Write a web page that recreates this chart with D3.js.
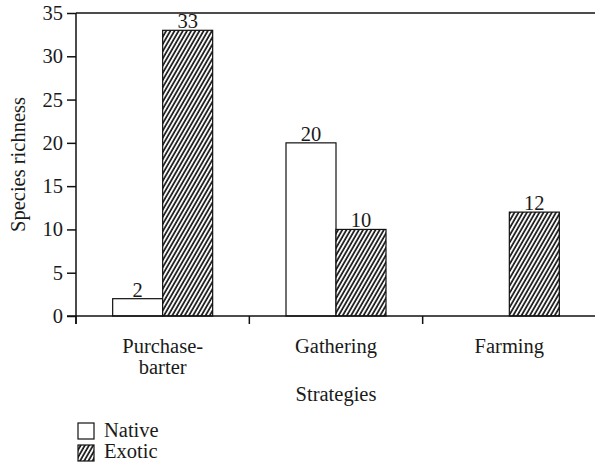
<!DOCTYPE html>
<html><head><meta charset="utf-8">
<script src="https://cdn.jsdelivr.net/npm/d3@7/dist/d3.min.js"></script>
<style>body{margin:0;background:#fff}svg{display:block}text{font-family:"Liberation Serif","Times New Roman",serif;fill:#1a1a1a}</style>
</head><body><svg id="c" width="595" height="463"></svg>
<script>
const categories = ["Purchase-barter", "Gathering", "Farming"];
const categoryLines = [["Purchase-", "barter"], ["Gathering"], ["Farming"]];
const series = ["Native", "Exotic"];
const nativeValues = [2, 20, 0];
const exoticValues = [33, 10, 12];
const yTicks = [0, 5, 10, 15, 20, 25, 30, 35];
const yTitle = "Species richness";
const xTitle = "Strategies";

const svg = d3.select("#c");
const fs = 20.5;
const defs = svg.append("defs");
const pat = defs.append("pattern").attr("id", "hatch").attr("patternUnits", "userSpaceOnUse")
  .attr("width", 3.6).attr("height", 3.6).attr("patternTransform", "rotate(30)");
pat.append("rect").attr("width", 3.6).attr("height", 3.6).attr("fill", "#fff");
pat.append("line").attr("x1", 1).attr("y1", 0).attr("x2", 1).attr("y2", 3.6)
  .attr("stroke", "#111").attr("stroke-width", 1.7);

const x0 = d3.scaleBand().domain(categories).range([76, 596]).padding(0);
const bw = x0.bandwidth();
const x1 = d3.scaleBand().domain(series).range([bw / 2 - 50, bw / 2 + 50]).padding(0);
const y = d3.scaleLinear().domain([0, 35]).range([316, 13]);

const data = [];
categories.forEach((c, i) => {
  data.push({ cat: c, s: "Native", v: nativeValues[i] });
  data.push({ cat: c, s: "Exotic", v: exoticValues[i] });
});
const shown = data.filter(d => d.v > 0);

// bars
svg.append("g").selectAll("rect").data(shown).join("rect")
  .attr("x", d => x0(d.cat) + x1(d.s))
  .attr("y", d => y(d.v))
  .attr("width", x1.bandwidth())
  .attr("height", d => y(0) - y(d.v))
  .attr("fill", d => d.s === "Native" ? "#fff" : "url(#hatch)")
  .attr("stroke", "#111").attr("stroke-width", 1.2);

// value labels
svg.append("g").selectAll("text").data(shown).join("text")
  .attr("x", d => x0(d.cat) + x1(d.s) + x1.bandwidth() / 2)
  .attr("y", d => y(d.v) - 2)
  .attr("text-anchor", "middle").attr("font-size", fs)
  .text(d => d.v);

// y axis
const yAxis = d3.axisLeft(y).tickValues(yTicks).tickSize(9).tickPadding(4);
const gy = svg.append("g").attr("transform", "translate(76,0)").call(yAxis);
gy.select(".domain").attr("d", "M0,13V324").attr("stroke", "#111").attr("stroke-width", 1.5);
gy.selectAll(".tick line").attr("stroke", "#111").attr("stroke-width", 1.5);
gy.selectAll(".tick text").attr("font-size", fs).attr("fill", "#1a1a1a");

// top border & x axis line
svg.append("line").attr("x1", 76).attr("x2", 595).attr("y1", y(35)).attr("y2", y(35))
  .attr("stroke", "#111").attr("stroke-width", 1.5);
svg.append("line").attr("x1", 67).attr("x2", 595).attr("y1", y(0)).attr("y2", y(0))
  .attr("stroke", "#111").attr("stroke-width", 1.5);

// x ticks at category boundaries
const bounds = categories.map(c => x0(c)).concat([x0.range()[1]]);
svg.append("g").selectAll("line").data(bounds).join("line")
  .attr("x1", d => d).attr("x2", d => d).attr("y1", y(0)).attr("y2", y(0) + 8)
  .attr("stroke", "#111").attr("stroke-width", 1.5);

// category labels
const gl = svg.append("g");
categories.forEach((c, i) => {
  const t = gl.append("text").attr("x", x0(c) + bw / 2).attr("y", 353)
    .attr("text-anchor", "middle").attr("font-size", fs);
  categoryLines[i].forEach((ln, j) => {
    t.append("tspan").attr("x", x0(c) + bw / 2).attr("dy", j === 0 ? 0 : 21).text(ln);
  });
});

// axis titles
svg.append("text").attr("x", x0.range()[0] + (x0.range()[1] - x0.range()[0]) / 2).attr("y", 401)
  .attr("text-anchor", "middle").attr("font-size", fs).text(xTitle);
svg.append("text").attr("transform", "translate(25," + ((13 + 316) / 2) + ") rotate(-90)")
  .attr("text-anchor", "middle").attr("font-size", fs).text(yTitle);

// legend
const lg = svg.append("g");
series.forEach((s, i) => {
  lg.append("rect").attr("x", 78).attr("y", 423 + i * 22).attr("width", 16).attr("height", 16)
    .attr("fill", s === "Native" ? "#fff" : "url(#hatch)").attr("stroke", "#111").attr("stroke-width", 1.2);
  lg.append("text").attr("x", 104).attr("y", 437 + i * 21).attr("font-size", fs).text(s);
});
</script></body></html>
